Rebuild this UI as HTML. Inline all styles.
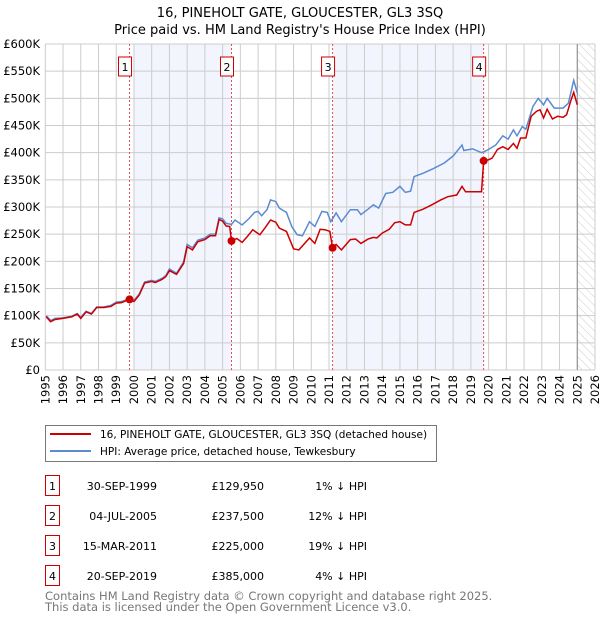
<!DOCTYPE html>
<html><head><meta charset="utf-8"><style>
body{margin:0;background:#fff}
svg{display:block;font-family:"DejaVu Sans","Liberation Sans",sans-serif}
</style></head><body>
<svg id="chart" width="600" height="620" viewBox="0 0 600 620" xmlns="http://www.w3.org/2000/svg">
<defs><pattern id="hatch" width="6" height="6" patternUnits="userSpaceOnUse" patternTransform="rotate(-45)"><line x1="0" y1="0" x2="0" y2="6" stroke="#ccc" stroke-width="1"/></pattern></defs>
<text x="300" y="17" text-anchor="middle" font-size="13">16, PINEHOLT GATE, GLOUCESTER, GL3 3SQ</text>
<text x="300" y="34" text-anchor="middle" font-size="13">Price paid vs. HM Land Registry's House Price Index (HPI)</text>
<g id="plot"></g>
<g>
<rect x="45.5" y="425.5" width="391" height="36" fill="#fff" stroke="#777"/>
<line x1="50" y1="434" x2="91" y2="434" stroke="#cc0000" stroke-width="2"/>
<text x="100" y="438" font-size="10.5">16, PINEHOLT GATE, GLOUCESTER, GL3 3SQ (detached house)</text>
<line x1="50" y1="451" x2="91" y2="451" stroke="#5b8bd0" stroke-width="2"/>
<text x="100" y="455" font-size="10.5">HPI: Average price, detached house, Tewkesbury</text>
</g>
<g id="table" font-size="11"></g>
<text x="45" y="600" font-size="11.5" fill="#777">Contains HM Land Registry data © Crown copyright and database right 2025.</text>
<text x="45" y="611" font-size="11.5" fill="#777">This data is licensed under the Open Government Licence v3.0.</text>
</svg>
<script>
const yTicks=[0,50,100,150,200,250,300,350,400,450,500,550,600];
const yTickLabels=["£0","£50K","£100K","£150K","£200K","£250K","£300K","£350K","£400K","£450K","£500K","£550K","£600K"];
const xYears=[1995,1996,1997,1998,1999,2000,2001,2002,2003,2004,2005,2006,2007,2008,2009,2010,2011,2012,2013,2014,2015,2016,2017,2018,2019,2020,2021,2022,2023,2024,2025,2026];
const redT=[1995.05,1995.3,1995.55,1996,1996.5,1996.8,1997,1997.3,1997.6,1997.9,1998.3,1998.7,1999,1999.3,1999.75,2000,2000.3,2000.6,2001,2001.2,2001.6,2001.8,2002,2002.4,2002.8,2003,2003.3,2003.6,2004,2004.3,2004.6,2004.8,2005,2005.2,2005.4,2005.5,2005.8,2006.1,2006.4,2006.7,2007.1,2007.4,2007.7,2008,2008.2,2008.6,2009,2009.3,2009.9,2010.2,2010.5,2010.8,2011.05,2011.2,2011.4,2011.7,2012.2,2012.5,2012.8,2013.2,2013.5,2013.7,2014,2014.4,2014.7,2015,2015.3,2015.6,2015.8,2016.3,2016.8,2017.3,2017.7,2018.2,2018.5,2018.7,2019.3,2019.6,2019.72,2020,2020.2,2020.5,2020.8,2021.1,2021.4,2021.6,2021.8,2022.1,2022.4,2022.7,2022.9,2023.1,2023.3,2023.6,2023.9,2024.2,2024.4,2024.65,2024.8,2025.0];
const redV=[98,89,93,95,98,103,95,107,103,115,115,117,123,124,130,126,138,160,163,161,167,172,183,176,196,227,221,236,240,247,247,277,274,265,264,237,242,235,246,258,249,262,276,272,261,255,223,221,243,233,259,258,255,224,231,221,240,241,233,241,244,243,252,259,271,273,267,267,290,296,304,313,319,322,338,328,328,328,385,387,390,406,411,406,417,408,427,427,467,476,479,464,480,462,467,465,470,497,511,488];
const blueT=[1995.05,1995.3,1995.55,1996,1996.5,1996.8,1997,1997.3,1997.6,1997.9,1998.3,1998.7,1999,1999.3,1999.75,2000,2000.3,2000.6,2001,2001.2,2001.6,2001.8,2002,2002.4,2002.8,2003,2003.3,2003.6,2004,2004.3,2004.6,2004.8,2005,2005.2,2005.5,2005.7,2006.1,2006.5,2006.8,2007,2007.2,2007.5,2007.7,2008,2008.2,2008.6,2008.9,2009.2,2009.5,2009.9,2010.2,2010.6,2010.9,2011.1,2011.4,2011.7,2012.2,2012.6,2012.8,2013.2,2013.5,2013.8,2014.2,2014.6,2015,2015.3,2015.6,2015.8,2016.3,2016.9,2017.5,2018,2018.5,2018.6,2019.1,2019.6,2019.9,2020.4,2020.8,2021.1,2021.4,2021.6,2021.9,2022.1,2022.5,2022.8,2023.1,2023.3,2023.7,2024.2,2024.5,2024.8,2025.0];
const blueV=[100,91,95,96,99,104,97,108,104,116,116,119,125,126,131,128,140,162,165,163,169,174,186,178,199,231,225,239,243,250,250,280,278,270,268,276,267,279,290,292,284,295,313,310,298,290,264,249,247,273,264,292,290,273,289,273,295,295,286,296,304,298,325,327,338,327,329,356,362,371,381,394,414,404,407,400,404,414,431,425,442,431,448,443,485,500,488,500,482,482,491,533,510];
const saleT=[1999.75,2005.5,2011.2,2019.72];
const saleV=[129.95,237.5,225,385];
const saleDates=["30-SEP-1999","04-JUL-2005","15-MAR-2011","20-SEP-2019"];
const salePrices=["£129,950","£237,500","£225,000","£385,000"];
const salePct=["1% ↓ HPI","12% ↓ HPI","19% ↓ HPI","4% ↓ HPI"];
const shadeStart=[2000,2011.2];
const shadeEnd=[2005.5,2019.72];
const NS="http://www.w3.org/2000/svg";
const L=45.3,R=595,T=44,B=370;
const xs=t=>L+(t-1995)/31*(R-L);
const ys=v=>B-v/600*(B-T);
const plot=document.getElementById('plot');
function mk(tag,attrs,parent){const e=document.createElementNS(NS,tag);for(const k in attrs)e.setAttribute(k,attrs[k]);(parent||plot).appendChild(e);return e;}
for(let i=0;i<shadeStart.length;i++){
 const r=mk('rect',{x:xs(shadeStart[i]),y:T,width:xs(shadeEnd[i])-xs(shadeStart[i]),height:B-T,fill:'#f2f5fd'});
 
 
}
const h=mk('rect',{x:xs(2025),y:T,width:R-xs(2025),height:B-T,fill:'url(#hatch)'});


xYears.forEach(y=>{
 const g=mk('line',{x1:xs(y),x2:xs(y),y1:T,y2:B,stroke:'#ccc','stroke-width':1});
 
 
 const t=mk('text',{x:0,y:0,'font-size':11.5,'text-anchor':'end',transform:`translate(${xs(y)+4},${B+5}) rotate(-90)`});
 t.textContent=y;
 
 
});
yTicks.forEach((v,i)=>{
 const g=mk('line',{x1:L,x2:R,y1:ys(v),y2:ys(v),stroke:'#ccc','stroke-width':1});
 
 
 const t=mk('text',{x:40,y:ys(v)+4,'font-size':11.5,'text-anchor':'end'});
 t.textContent=yTickLabels[i];
 
 
});
const vl=mk('line',{x1:xs(2025),x2:xs(2025),y1:T,y2:B,stroke:'#888','stroke-width':1});


saleT.forEach((t,i)=>{
 const l=mk('line',{x1:xs(t),x2:xs(t),y1:T,y2:B,stroke:'#e05050','stroke-width':1,'stroke-dasharray':'2,2'});
 
 
 const bx=mk('rect',{x:xs(t)-11,y:57,width:13,height:19,fill:'#fff',stroke:'#cc0000'});
 
 
 const tx=mk('text',{x:xs(t)-4.5,y:71,'font-size':11,'text-anchor':'middle'});
 tx.textContent=i+1;
 
 
});
const bp=mk('polyline',{points:blueT.map((t,i)=>xs(t)+','+ys(blueV[i])).join(' '),fill:'none',stroke:'#5b8bd0','stroke-width':1.5});


const rp=mk('polyline',{points:redT.map((t,i)=>xs(t)+','+ys(redV[i])).join(' '),fill:'none',stroke:'#cc0000','stroke-width':1.5});


saleT.forEach((t,i)=>{
 const c=mk('circle',{cx:xs(t),cy:ys(saleV[i]),r:4,fill:'#cc0000'});
 
 
});
const tb=document.getElementById('table');
saleT.forEach((t,i)=>{
 const y0=475+i*30;
 const b=mk('rect',{x:45.5,y:y0+0.5,width:14,height:20,fill:'#fff',stroke:'#cc0000'},tb);
 
 
 const n=mk('text',{x:52.5,y:y0+15,'text-anchor':'middle'},tb);
 n.textContent=i+1;
 
 
 const d=mk('text',{x:157,y:y0+15,'text-anchor':'end'},tb);
 d.textContent=saleDates[i];
 
 
 const p=mk('text',{x:264,y:y0+15,'text-anchor':'end'},tb);
 p.textContent=salePrices[i];
 
 
 const q=mk('text',{x:367,y:y0+15,'text-anchor':'end'},tb);
 q.textContent=salePct[i];
 
 
});
</script>
</body></html>
